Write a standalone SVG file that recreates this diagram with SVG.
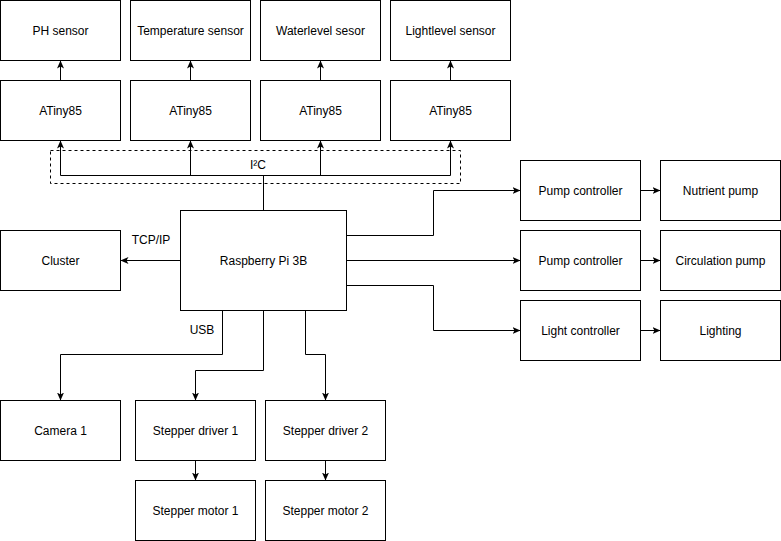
<svg xmlns="http://www.w3.org/2000/svg" width="781" height="541" viewBox="0 0 781 541">
<defs>
<style>
.box{fill:#fff;stroke:#000;stroke-width:1}
.t{font-family:"Liberation Sans",Arial,sans-serif;font-size:12px;fill:#000;text-anchor:middle;dominant-baseline:central}
.c{fill:none;stroke:#000;stroke-width:1}
.dash{fill:none;stroke:#000;stroke-width:1;stroke-dasharray:3 3}
</style>
<marker id="arr" viewBox="0 0 8 8" refX="8" refY="4" markerWidth="8" markerHeight="8" orient="auto" markerUnits="userSpaceOnUse">
<path d="M0,0.5 L8,4 L0,7.5 L2,4 Z" fill="#000"/>
</marker>
</defs>
<rect width="781" height="541" fill="#fff"/>
<g id="i2c-bus">
<rect class="dash" x="50.5" y="150.5" width="410" height="33"/>
<text class="t" x="258" y="165">I²C</text>
</g>
<g id="connectors">
<path class="c" marker-end="url(#arr)" d="M60.5,80.5 V60.5"/>
<path class="c" marker-end="url(#arr)" d="M190.5,80.5 V60.5"/>
<path class="c" marker-end="url(#arr)" d="M320.5,80.5 V60.5"/>
<path class="c" marker-end="url(#arr)" d="M450.5,80.5 V60.5"/>
<path class="c" d="M60.5,175.5 H450.5"/>
<path class="c" d="M263.5,175.5 V210.5"/>
<path class="c" marker-end="url(#arr)" d="M60.5,175.5 V140.5"/>
<path class="c" marker-end="url(#arr)" d="M190.5,175.5 V140.5"/>
<path class="c" marker-end="url(#arr)" d="M320.5,175.5 V140.5"/>
<path class="c" marker-end="url(#arr)" d="M450.5,175.5 V140.5"/>
<path class="c" marker-end="url(#arr)" d="M180.5,260.5 H120.5"/>
<text class="t" x="151" y="240">TCP/IP</text>
<path class="c" marker-end="url(#arr)" d="M346.5,235.5 H433.5 V190.5 H520.5"/>
<path class="c" marker-end="url(#arr)" d="M346.5,260.5 H520.5"/>
<path class="c" marker-end="url(#arr)" d="M346.5,285.5 H433.5 V330.5 H520.5"/>
<path class="c" marker-end="url(#arr)" d="M640.5,190.5 H660.5"/>
<path class="c" marker-end="url(#arr)" d="M640.5,260.5 H660.5"/>
<path class="c" marker-end="url(#arr)" d="M640.5,330.5 H660.5"/>
<path class="c" marker-end="url(#arr)" d="M222.5,310.5 V354.5 H60.5 V400.5"/>
<text class="t" x="202" y="330">USB</text>
<path class="c" marker-end="url(#arr)" d="M263.5,310.5 V370.5 H195.5 V400.5"/>
<path class="c" marker-end="url(#arr)" d="M305.5,310.5 V354.5 H325.5 V400.5"/>
<path class="c" marker-end="url(#arr)" d="M195.5,460.5 V480.5"/>
<path class="c" marker-end="url(#arr)" d="M325.5,460.5 V480.5"/>
</g>
<g id="ph-sensor"><rect class="box" x="0.5" y="0.5" width="120" height="60"/><text class="t" x="60.5" y="30.5">PH sensor</text></g>
<g id="temp-sensor"><rect class="box" x="130.5" y="0.5" width="120" height="60"/><text class="t" x="190.5" y="30.5">Temperature sensor</text></g>
<g id="water-sensor"><rect class="box" x="260.5" y="0.5" width="120" height="60"/><text class="t" x="320.5" y="30.5">Waterlevel sesor</text></g>
<g id="light-sensor"><rect class="box" x="390.5" y="0.5" width="120" height="60"/><text class="t" x="450.5" y="30.5">Lightlevel sensor</text></g>
<g id="attiny1"><rect class="box" x="0.5" y="80.5" width="120" height="60"/><text class="t" x="60.5" y="110.5">ATiny85</text></g>
<g id="attiny2"><rect class="box" x="130.5" y="80.5" width="120" height="60"/><text class="t" x="190.5" y="110.5">ATiny85</text></g>
<g id="attiny3"><rect class="box" x="260.5" y="80.5" width="120" height="60"/><text class="t" x="320.5" y="110.5">ATiny85</text></g>
<g id="attiny4"><rect class="box" x="390.5" y="80.5" width="120" height="60"/><text class="t" x="450.5" y="110.5">ATiny85</text></g>
<g id="rpi"><rect class="box" x="180.5" y="210.5" width="166" height="100"/><text class="t" x="263.5" y="260.5">Raspberry Pi 3B</text></g>
<g id="cluster"><rect class="box" x="0.5" y="230.5" width="120" height="60"/><text class="t" x="60.5" y="260.5">Cluster</text></g>
<g id="pump-ctrl-1"><rect class="box" x="520.5" y="160.5" width="120" height="60"/><text class="t" x="580.5" y="190.5">Pump controller</text></g>
<g id="nutrient-pump"><rect class="box" x="660.5" y="160.5" width="120" height="60"/><text class="t" x="720.5" y="190.5">Nutrient pump</text></g>
<g id="pump-ctrl-2"><rect class="box" x="520.5" y="230.5" width="120" height="60"/><text class="t" x="580.5" y="260.5">Pump controller</text></g>
<g id="circ-pump"><rect class="box" x="660.5" y="230.5" width="120" height="60"/><text class="t" x="720.5" y="260.5">Circulation pump</text></g>
<g id="light-ctrl"><rect class="box" x="520.5" y="300.5" width="120" height="60"/><text class="t" x="580.5" y="330.5">Light controller</text></g>
<g id="lighting"><rect class="box" x="660.5" y="300.5" width="120" height="60"/><text class="t" x="720.5" y="330.5">Lighting</text></g>
<g id="camera"><rect class="box" x="0.5" y="400.5" width="120" height="60"/><text class="t" x="60.5" y="430.5">Camera 1</text></g>
<g id="stepper-driver-1"><rect class="box" x="135.5" y="400.5" width="120" height="60"/><text class="t" x="195.5" y="430.5">Stepper driver 1</text></g>
<g id="stepper-driver-2"><rect class="box" x="265.5" y="400.5" width="120" height="60"/><text class="t" x="325.5" y="430.5">Stepper driver 2</text></g>
<g id="stepper-motor-1"><rect class="box" x="135.5" y="480.5" width="120" height="60"/><text class="t" x="195.5" y="510.5">Stepper motor 1</text></g>
<g id="stepper-motor-2"><rect class="box" x="265.5" y="480.5" width="120" height="60"/><text class="t" x="325.5" y="510.5">Stepper motor 2</text></g>
</svg>
